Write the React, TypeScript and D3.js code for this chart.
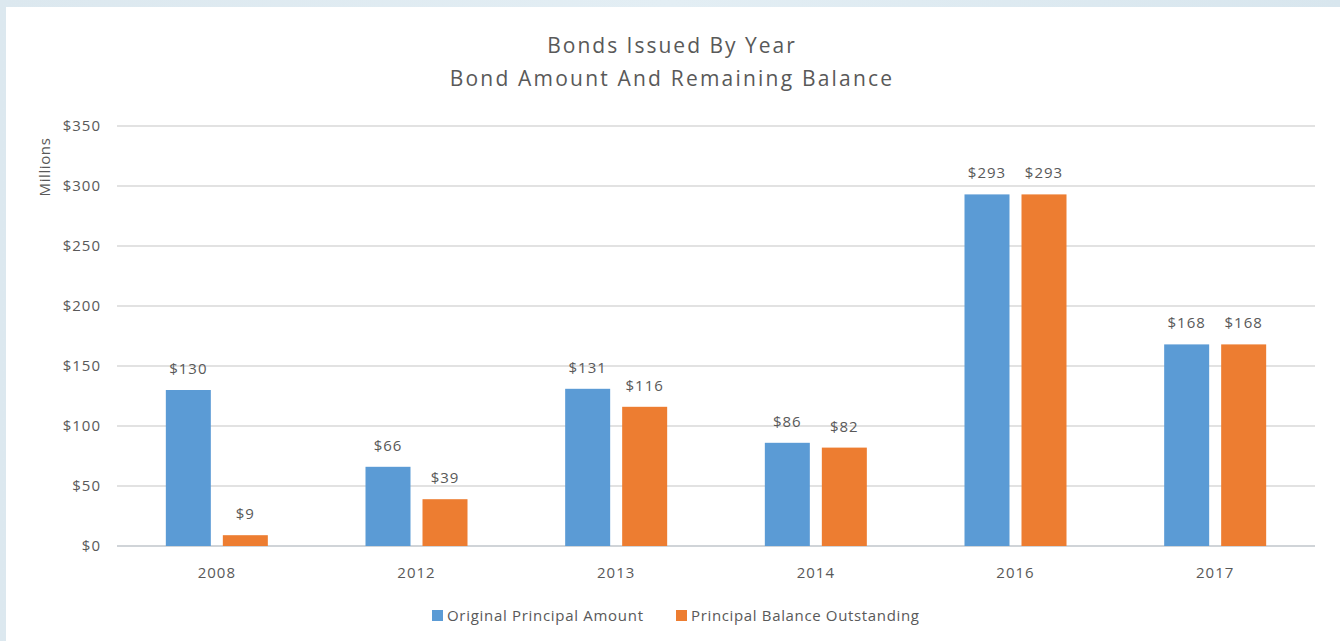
import React from "react";
import * as d3 from "d3";

const years = ["2008", "2012", "2013", "2014", "2016", "2017"];
const originalPrincipal = [130, 66, 131, 86, 293, 168];
const balanceOutstanding = [9, 39, 116, 82, 293, 168];
const seriesNames = ["Original Principal Amount", "Principal Balance Outstanding"];
const seriesColors = ["#5B9BD5", "#ED7D31"];
const yTicks = [0, 50, 100, 150, 200, 250, 300, 350];

const W = 1340;
const H = 641;
const FONT = "'Open Sans', Lato, sans-serif";
const TEXT = "#595959";

export default function App() {
  const left = 117;
  const right = 1315;
  const top = 126;
  const bottom = 546;
  const x = d3.scaleBand<string>().domain(years).range([left, right]);
  const y = d3.scaleLinear().domain([0, 350]).range([bottom, top]);
  const barW = 45;
  const gap = 12;
  const series = [originalPrincipal, balanceOutstanding];
  const labelFs = 15;
  const labelLs = 1;

  return (
    <svg width={W} height={H} style={{ position: "absolute", left: 0, top: 0 }} fontFamily={FONT}>
      <defs>
        <linearGradient id="topFrame" x1="0" x2="1" y1="0" y2="0">
          <stop offset="0" stopColor="#dce8ef" />
          <stop offset="0.5" stopColor="#e3eef4" />
          <stop offset="1" stopColor="#d8e6ee" />
        </linearGradient>
      </defs>
      <rect x={0} y={0} width={W} height={H} fill="url(#topFrame)" />
      <rect x={6} y={7} width={W - 6} height={H - 7} fill="#ffffff" />

      <text x={672} y={53} textAnchor="middle" fontSize={21} letterSpacing={2} fill={TEXT}>
        Bonds Issued By Year
      </text>
      <text x={672} y={86} textAnchor="middle" fontSize={21} letterSpacing={2.2} fill={TEXT}>
        Bond Amount And Remaining Balance
      </text>

      {yTicks.map((t) => (
        <g key={t}>
          <line x1={left} x2={right} y1={y(t)} y2={y(t)} stroke={t === 0 ? "#d0d4d8" : "#d9d9d9"} strokeWidth={t === 0 ? 2 : 1.5} />
          <text x={101} y={y(t) + 5} textAnchor="end" fontSize={labelFs} letterSpacing={labelLs} fill={TEXT}>
            {`$${t}`}
          </text>
        </g>
      ))}

      <text transform={`translate(50,167) rotate(-90)`} textAnchor="middle" fontSize={labelFs} letterSpacing={0.6} fill={TEXT}>
        Millions
      </text>

      {years.map((yr, i) => {
        const cx = (x(yr) as number) + x.bandwidth() / 2;
        return (
          <g key={yr}>
            {series.map((s, si) => {
              const bx = si === 0 ? cx - gap / 2 - barW : cx + gap / 2;
              const v = s[i];
              return (
                <g key={si}>
                  <rect x={bx} y={y(v)} width={barW} height={bottom - y(v)} fill={seriesColors[si]} />
                  <text x={bx + barW / 2} y={y(v) - 16} textAnchor="middle" fontSize={labelFs} letterSpacing={labelLs} fill={TEXT}>
                    {`$${v}`}
                  </text>
                </g>
              );
            })}
            <text x={cx} y={578} textAnchor="middle" fontSize={labelFs} letterSpacing={labelLs} fill={TEXT}>
              {yr}
            </text>
          </g>
        );
      })}

      <rect x={432} y={610} width={11} height={11} fill={seriesColors[0]} />
      <text x={447} y={621} fontSize={labelFs} letterSpacing={0.7} fill={TEXT}>
        {seriesNames[0]}
      </text>
      <rect x={676} y={610} width={11} height={11} fill={seriesColors[1]} />
      <text x={691} y={621} fontSize={labelFs} letterSpacing={0.65} fill={TEXT}>
        {seriesNames[1]}
      </text>
    </svg>
  );
}
